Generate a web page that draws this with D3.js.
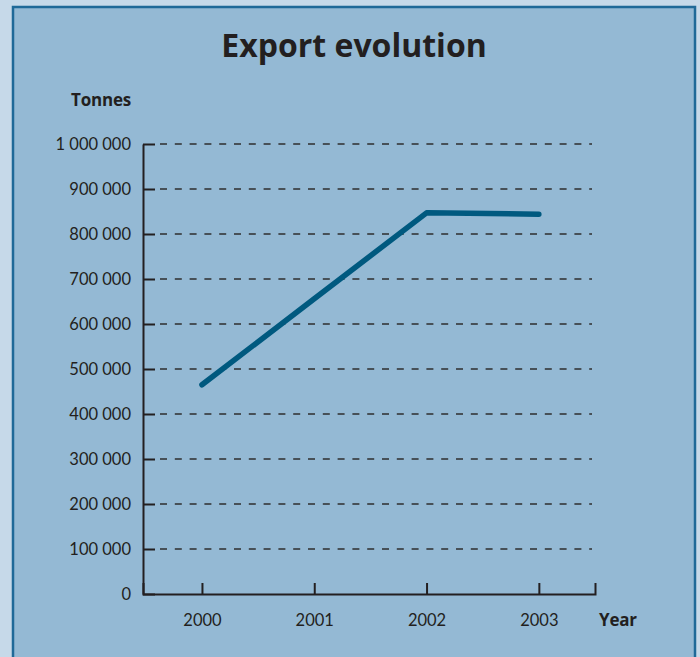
<html>
<head>
<meta charset="utf-8">
<script src="https://cdn.jsdelivr.net/npm/d3@7"></script>
<style>
body {
	margin: 0;
	background: #c6d9e9;
}
svg text {
	font-family: Lato, "Open Sans", sans-serif;
	fill: #231f20;
}
svg text.lbl {
	font-family: "Open Sans", Lato, sans-serif;
	font-weight: bold;
}
.axis path, .axis line {
	stroke: #231f20;
	stroke-width: 2;
}
.axis text {
	font-size: 16.5px;
}
</style>
</head>
<body>
<svg id="chart" width="700" height="657"></svg>
<script>
// data
var years = [2000, 2001, 2002, 2003];
var tonnes = [465000, 656000, 847000, 844000];
var yTicks = [0, 100000, 200000, 300000, 400000, 500000, 600000, 700000, 800000, 900000, 1000000];

var svg = d3.select("#chart");

// panel
svg.append("rect")
	.attr("x", 13).attr("y", 7)
	.attr("width", 682).attr("height", 700)
	.attr("fill", "#94b9d4")
	.attr("stroke", "#1f6998")
	.attr("stroke-width", 2.5);

var x = d3.scaleLinear().domain([1999.475, 2003.5]).range([143, 595]);
var y = d3.scaleLinear().domain([0, 1000000]).range([594, 144]);

// title
svg.append("text")
	.attr("class", "lbl")
	.text("Export evolution")
	.attr("x", 354).attr("y", 57)
	.attr("text-anchor", "middle")
	.attr("font-size", 32);

svg.append("text")
	.attr("class", "lbl")
	.text("Tonnes")
	.attr("x", 71).attr("y", 106)
	.attr("font-size", 17)
	.attr("letter-spacing", -0.2);

svg.append("text")
	.attr("class", "lbl")
	.text("Year")
	.attr("x", 599).attr("y", 626)
	.attr("font-size", 17)
	.attr("letter-spacing", -0.2);

// dashed grid lines
svg.append("g").selectAll("line")
	.data(yTicks.filter(function(d){ return d > 0; }))
	.join("line")
	.attr("x1", 160).attr("x2", 592)
	.attr("y1", function(d){ return y(d); })
	.attr("y2", function(d){ return y(d); })
	.attr("stroke", "#2e2e2e")
	.attr("stroke-width", 1.4)
	.attr("stroke-dasharray", "7,7.8");

// y axis
var fmt = function(d){ return d3.format(",")(d).replace(/,/g, " "); };
svg.append("g")
	.attr("class", "axis")
	.attr("transform", "translate(143,0)")
	.call(d3.axisLeft(y).tickValues(yTicks).tickFormat(fmt)
		.tickSizeInner(-12).tickSizeOuter(0).tickPadding(12));

// x axis
svg.append("g")
	.attr("class", "axis")
	.attr("transform", "translate(0,594)")
	.call(d3.axisBottom(x).tickValues(years).tickFormat(d3.format("d"))
		.tickSizeInner(-11).tickSizeOuter(-11).tickPadding(20));

svg.selectAll(".axis .domain").attr("fill", "none");

// line
var line = d3.line()
	.x(function(d, i){ return x(years[i]); })
	.y(function(d){ return y(d); });

svg.append("path")
	.datum(tonnes)
	.attr("d", line)
	.attr("fill", "none")
	.attr("stroke", "#00597f")
	.attr("stroke-width", 5.5)
	.attr("stroke-linecap", "round")
	.attr("stroke-linejoin", "round");
</script>
</body>
</html>
